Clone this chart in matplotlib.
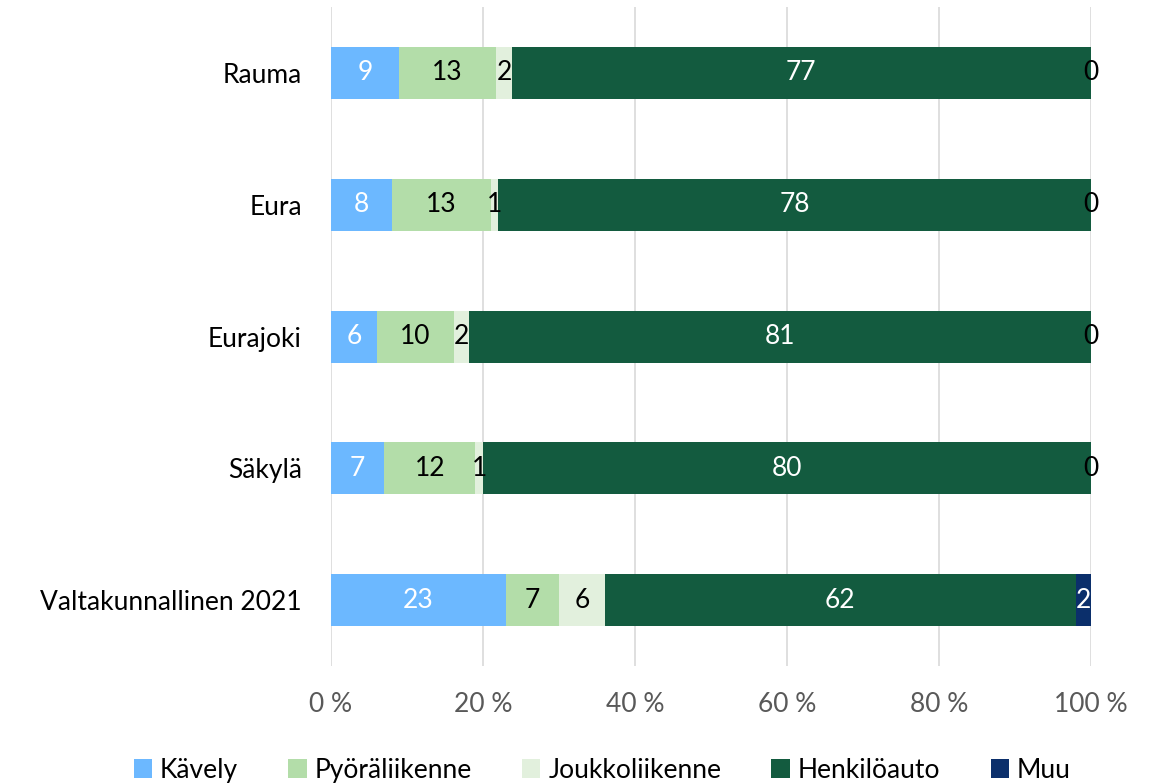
import numpy as np
import matplotlib.pyplot as plt

plt.rcParams['font.family'] = ['Lato', 'DejaVu Sans']

# Data (percent shares by mode)
places = ['Rauma', 'Eura', 'Eurajoki', 'Säkylä', 'Valtakunnallinen 2021']
modes = ['Kävely', 'Pyöräliikenne', 'Joukkoliikenne', 'Henkilöauto', 'Muu']
kavely = [9, 8, 6, 7, 23]
pyora = [13, 13, 10, 12, 7]
joukko = [2, 1, 2, 1, 6]
auto = [77, 78, 81, 80, 62]
muu = [0, 0, 0, 0, 2]

colors = ['#6CB8FF', '#B3DDA9', '#E2F0DD', '#135B3F', '#0B2F6B']
text_colors = ['white', 'black', 'black', 'white', 'white']

series = np.array([kavely, pyora, joukko, auto, muu], dtype=float)
shares = series / series.sum(axis=0) * 100

fig = plt.figure(figsize=(11.58, 7.83), dpi=100)
ax = fig.add_axes([0.2858, 0.1494, 0.6563, 0.8416])

fs = 19
y = np.arange(len(places))
left = np.zeros(len(places))
for i, name in enumerate(modes):
    bars = ax.barh(y, shares[i], left=left, height=0.395, color=colors[i],
                   label=name, zorder=3)
    for j, b in enumerate(bars):
        v = int(series[i][j])
        c = text_colors[i] if v > 0 else 'black'
        ax.text(left[j] + shares[i][j] / 2, y[j], str(v), ha='center',
                va='center', fontsize=fs, color=c, zorder=4)
    left += shares[i]

ax.set_xlim(0, 100)
ax.set_ylim(len(places) - 0.5, -0.5)
ax.set_yticks(y)
ax.set_yticklabels(places, fontsize=fs)
ax.set_xticks(np.arange(0, 101, 20))
ax.set_xticklabels([f'{t} %' for t in range(0, 101, 20)], fontsize=fs, color='#595959')
ax.tick_params(axis='y', length=0, pad=21)
ax.tick_params(axis='x', length=0, pad=19)
ax.xaxis.grid(True, color='#D9D9D9', linewidth=1.2, zorder=0)
for s in ax.spines.values():
    s.set_visible(False)

fig.legend(loc='lower center', ncol=5, frameon=False, fontsize=fs,
           bbox_to_anchor=(0.52, -0.03), handlelength=0.7, handleheight=0.7,
           handletextpad=0.3, columnspacing=1.9)

fig.savefig('out.png', dpi=100)
